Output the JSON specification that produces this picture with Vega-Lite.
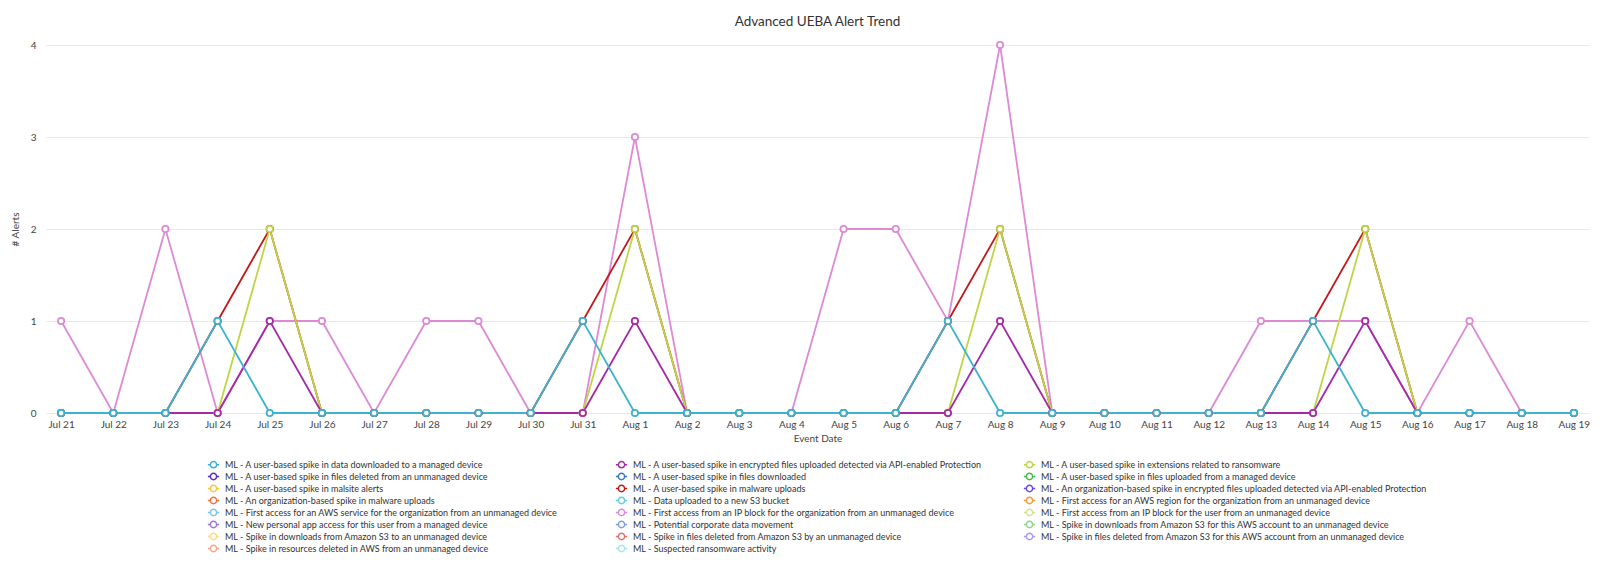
{
  "$schema": "https://vega.github.io/schema/vega-lite/v6.json",
  "width": 1600,
  "height": 569,
  "autosize": {"type": "fit", "contains": "padding"},
  "padding": {"left": 10, "right": 10, "top": 14, "bottom": 14},
  "background": "white",
  "title": {"text": "Advanced UEBA Alert Trend", "fontSize": 13.5, "font": "Lato", "fontWeight": "normal", "color": "#333333", "offset": 10, "anchor": "middle"},
  "config": {
    "font": "Lato",
    "view": {"stroke": null},
    "legend": {"layout": {"bottom": {"anchor": "middle"}}}
  },
  "data": {"values": [
    {"series": "ML - First access from an IP block for the organization from an unmanaged device", "date": "Jul 21", "alerts": 1},
    {"series": "ML - First access from an IP block for the organization from an unmanaged device", "date": "Jul 22", "alerts": 0},
    {"series": "ML - First access from an IP block for the organization from an unmanaged device", "date": "Jul 23", "alerts": 2},
    {"series": "ML - First access from an IP block for the organization from an unmanaged device", "date": "Jul 24", "alerts": 0},
    {"series": "ML - First access from an IP block for the organization from an unmanaged device", "date": "Jul 25", "alerts": 1},
    {"series": "ML - First access from an IP block for the organization from an unmanaged device", "date": "Jul 26", "alerts": 1},
    {"series": "ML - First access from an IP block for the organization from an unmanaged device", "date": "Jul 27", "alerts": 0},
    {"series": "ML - First access from an IP block for the organization from an unmanaged device", "date": "Jul 28", "alerts": 1},
    {"series": "ML - First access from an IP block for the organization from an unmanaged device", "date": "Jul 29", "alerts": 1},
    {"series": "ML - First access from an IP block for the organization from an unmanaged device", "date": "Jul 30", "alerts": 0},
    {"series": "ML - First access from an IP block for the organization from an unmanaged device", "date": "Jul 31", "alerts": 0},
    {"series": "ML - First access from an IP block for the organization from an unmanaged device", "date": "Aug 1", "alerts": 3},
    {"series": "ML - First access from an IP block for the organization from an unmanaged device", "date": "Aug 2", "alerts": 0},
    {"series": "ML - First access from an IP block for the organization from an unmanaged device", "date": "Aug 3", "alerts": 0},
    {"series": "ML - First access from an IP block for the organization from an unmanaged device", "date": "Aug 4", "alerts": 0},
    {"series": "ML - First access from an IP block for the organization from an unmanaged device", "date": "Aug 5", "alerts": 2},
    {"series": "ML - First access from an IP block for the organization from an unmanaged device", "date": "Aug 6", "alerts": 2},
    {"series": "ML - First access from an IP block for the organization from an unmanaged device", "date": "Aug 7", "alerts": 1},
    {"series": "ML - First access from an IP block for the organization from an unmanaged device", "date": "Aug 8", "alerts": 4},
    {"series": "ML - First access from an IP block for the organization from an unmanaged device", "date": "Aug 9", "alerts": 0},
    {"series": "ML - First access from an IP block for the organization from an unmanaged device", "date": "Aug 10", "alerts": 0},
    {"series": "ML - First access from an IP block for the organization from an unmanaged device", "date": "Aug 11", "alerts": 0},
    {"series": "ML - First access from an IP block for the organization from an unmanaged device", "date": "Aug 12", "alerts": 0},
    {"series": "ML - First access from an IP block for the organization from an unmanaged device", "date": "Aug 13", "alerts": 1},
    {"series": "ML - First access from an IP block for the organization from an unmanaged device", "date": "Aug 14", "alerts": 1},
    {"series": "ML - First access from an IP block for the organization from an unmanaged device", "date": "Aug 15", "alerts": 1},
    {"series": "ML - First access from an IP block for the organization from an unmanaged device", "date": "Aug 16", "alerts": 0},
    {"series": "ML - First access from an IP block for the organization from an unmanaged device", "date": "Aug 17", "alerts": 1},
    {"series": "ML - First access from an IP block for the organization from an unmanaged device", "date": "Aug 18", "alerts": 0},
    {"series": "ML - First access from an IP block for the organization from an unmanaged device", "date": "Aug 19", "alerts": 0},

    {"series": "ML - A user-based spike in malware uploads", "date": "Jul 21", "alerts": 0},
    {"series": "ML - A user-based spike in malware uploads", "date": "Jul 22", "alerts": 0},
    {"series": "ML - A user-based spike in malware uploads", "date": "Jul 23", "alerts": 0},
    {"series": "ML - A user-based spike in malware uploads", "date": "Jul 24", "alerts": 1},
    {"series": "ML - A user-based spike in malware uploads", "date": "Jul 25", "alerts": 2},
    {"series": "ML - A user-based spike in malware uploads", "date": "Jul 26", "alerts": 0},
    {"series": "ML - A user-based spike in malware uploads", "date": "Jul 27", "alerts": 0},
    {"series": "ML - A user-based spike in malware uploads", "date": "Jul 28", "alerts": 0},
    {"series": "ML - A user-based spike in malware uploads", "date": "Jul 29", "alerts": 0},
    {"series": "ML - A user-based spike in malware uploads", "date": "Jul 30", "alerts": 0},
    {"series": "ML - A user-based spike in malware uploads", "date": "Jul 31", "alerts": 1},
    {"series": "ML - A user-based spike in malware uploads", "date": "Aug 1", "alerts": 2},
    {"series": "ML - A user-based spike in malware uploads", "date": "Aug 2", "alerts": 0},
    {"series": "ML - A user-based spike in malware uploads", "date": "Aug 3", "alerts": 0},
    {"series": "ML - A user-based spike in malware uploads", "date": "Aug 4", "alerts": 0},
    {"series": "ML - A user-based spike in malware uploads", "date": "Aug 5", "alerts": 0},
    {"series": "ML - A user-based spike in malware uploads", "date": "Aug 6", "alerts": 0},
    {"series": "ML - A user-based spike in malware uploads", "date": "Aug 7", "alerts": 1},
    {"series": "ML - A user-based spike in malware uploads", "date": "Aug 8", "alerts": 2},
    {"series": "ML - A user-based spike in malware uploads", "date": "Aug 9", "alerts": 0},
    {"series": "ML - A user-based spike in malware uploads", "date": "Aug 10", "alerts": 0},
    {"series": "ML - A user-based spike in malware uploads", "date": "Aug 11", "alerts": 0},
    {"series": "ML - A user-based spike in malware uploads", "date": "Aug 12", "alerts": 0},
    {"series": "ML - A user-based spike in malware uploads", "date": "Aug 13", "alerts": 0},
    {"series": "ML - A user-based spike in malware uploads", "date": "Aug 14", "alerts": 1},
    {"series": "ML - A user-based spike in malware uploads", "date": "Aug 15", "alerts": 2},
    {"series": "ML - A user-based spike in malware uploads", "date": "Aug 16", "alerts": 0},
    {"series": "ML - A user-based spike in malware uploads", "date": "Aug 17", "alerts": 0},
    {"series": "ML - A user-based spike in malware uploads", "date": "Aug 18", "alerts": 0},
    {"series": "ML - A user-based spike in malware uploads", "date": "Aug 19", "alerts": 0},

    {"series": "ML - A user-based spike in extensions related to ransomware", "date": "Jul 21", "alerts": 0},
    {"series": "ML - A user-based spike in extensions related to ransomware", "date": "Jul 22", "alerts": 0},
    {"series": "ML - A user-based spike in extensions related to ransomware", "date": "Jul 23", "alerts": 0},
    {"series": "ML - A user-based spike in extensions related to ransomware", "date": "Jul 24", "alerts": 0},
    {"series": "ML - A user-based spike in extensions related to ransomware", "date": "Jul 25", "alerts": 2},
    {"series": "ML - A user-based spike in extensions related to ransomware", "date": "Jul 26", "alerts": 0},
    {"series": "ML - A user-based spike in extensions related to ransomware", "date": "Jul 27", "alerts": 0},
    {"series": "ML - A user-based spike in extensions related to ransomware", "date": "Jul 28", "alerts": 0},
    {"series": "ML - A user-based spike in extensions related to ransomware", "date": "Jul 29", "alerts": 0},
    {"series": "ML - A user-based spike in extensions related to ransomware", "date": "Jul 30", "alerts": 0},
    {"series": "ML - A user-based spike in extensions related to ransomware", "date": "Jul 31", "alerts": 0},
    {"series": "ML - A user-based spike in extensions related to ransomware", "date": "Aug 1", "alerts": 2},
    {"series": "ML - A user-based spike in extensions related to ransomware", "date": "Aug 2", "alerts": 0},
    {"series": "ML - A user-based spike in extensions related to ransomware", "date": "Aug 3", "alerts": 0},
    {"series": "ML - A user-based spike in extensions related to ransomware", "date": "Aug 4", "alerts": 0},
    {"series": "ML - A user-based spike in extensions related to ransomware", "date": "Aug 5", "alerts": 0},
    {"series": "ML - A user-based spike in extensions related to ransomware", "date": "Aug 6", "alerts": 0},
    {"series": "ML - A user-based spike in extensions related to ransomware", "date": "Aug 7", "alerts": 0},
    {"series": "ML - A user-based spike in extensions related to ransomware", "date": "Aug 8", "alerts": 2},
    {"series": "ML - A user-based spike in extensions related to ransomware", "date": "Aug 9", "alerts": 0},
    {"series": "ML - A user-based spike in extensions related to ransomware", "date": "Aug 10", "alerts": 0},
    {"series": "ML - A user-based spike in extensions related to ransomware", "date": "Aug 11", "alerts": 0},
    {"series": "ML - A user-based spike in extensions related to ransomware", "date": "Aug 12", "alerts": 0},
    {"series": "ML - A user-based spike in extensions related to ransomware", "date": "Aug 13", "alerts": 0},
    {"series": "ML - A user-based spike in extensions related to ransomware", "date": "Aug 14", "alerts": 0},
    {"series": "ML - A user-based spike in extensions related to ransomware", "date": "Aug 15", "alerts": 2},
    {"series": "ML - A user-based spike in extensions related to ransomware", "date": "Aug 16", "alerts": 0},
    {"series": "ML - A user-based spike in extensions related to ransomware", "date": "Aug 17", "alerts": 0},
    {"series": "ML - A user-based spike in extensions related to ransomware", "date": "Aug 18", "alerts": 0},
    {"series": "ML - A user-based spike in extensions related to ransomware", "date": "Aug 19", "alerts": 0},

    {"series": "ML - A user-based spike in encrypted files uploaded detected via API-enabled Protection", "date": "Jul 21", "alerts": 0},
    {"series": "ML - A user-based spike in encrypted files uploaded detected via API-enabled Protection", "date": "Jul 22", "alerts": 0},
    {"series": "ML - A user-based spike in encrypted files uploaded detected via API-enabled Protection", "date": "Jul 23", "alerts": 0},
    {"series": "ML - A user-based spike in encrypted files uploaded detected via API-enabled Protection", "date": "Jul 24", "alerts": 0},
    {"series": "ML - A user-based spike in encrypted files uploaded detected via API-enabled Protection", "date": "Jul 25", "alerts": 1},
    {"series": "ML - A user-based spike in encrypted files uploaded detected via API-enabled Protection", "date": "Jul 26", "alerts": 0},
    {"series": "ML - A user-based spike in encrypted files uploaded detected via API-enabled Protection", "date": "Jul 27", "alerts": 0},
    {"series": "ML - A user-based spike in encrypted files uploaded detected via API-enabled Protection", "date": "Jul 28", "alerts": 0},
    {"series": "ML - A user-based spike in encrypted files uploaded detected via API-enabled Protection", "date": "Jul 29", "alerts": 0},
    {"series": "ML - A user-based spike in encrypted files uploaded detected via API-enabled Protection", "date": "Jul 30", "alerts": 0},
    {"series": "ML - A user-based spike in encrypted files uploaded detected via API-enabled Protection", "date": "Jul 31", "alerts": 0},
    {"series": "ML - A user-based spike in encrypted files uploaded detected via API-enabled Protection", "date": "Aug 1", "alerts": 1},
    {"series": "ML - A user-based spike in encrypted files uploaded detected via API-enabled Protection", "date": "Aug 2", "alerts": 0},
    {"series": "ML - A user-based spike in encrypted files uploaded detected via API-enabled Protection", "date": "Aug 3", "alerts": 0},
    {"series": "ML - A user-based spike in encrypted files uploaded detected via API-enabled Protection", "date": "Aug 4", "alerts": 0},
    {"series": "ML - A user-based spike in encrypted files uploaded detected via API-enabled Protection", "date": "Aug 5", "alerts": 0},
    {"series": "ML - A user-based spike in encrypted files uploaded detected via API-enabled Protection", "date": "Aug 6", "alerts": 0},
    {"series": "ML - A user-based spike in encrypted files uploaded detected via API-enabled Protection", "date": "Aug 7", "alerts": 0},
    {"series": "ML - A user-based spike in encrypted files uploaded detected via API-enabled Protection", "date": "Aug 8", "alerts": 1},
    {"series": "ML - A user-based spike in encrypted files uploaded detected via API-enabled Protection", "date": "Aug 9", "alerts": 0},
    {"series": "ML - A user-based spike in encrypted files uploaded detected via API-enabled Protection", "date": "Aug 10", "alerts": 0},
    {"series": "ML - A user-based spike in encrypted files uploaded detected via API-enabled Protection", "date": "Aug 11", "alerts": 0},
    {"series": "ML - A user-based spike in encrypted files uploaded detected via API-enabled Protection", "date": "Aug 12", "alerts": 0},
    {"series": "ML - A user-based spike in encrypted files uploaded detected via API-enabled Protection", "date": "Aug 13", "alerts": 0},
    {"series": "ML - A user-based spike in encrypted files uploaded detected via API-enabled Protection", "date": "Aug 14", "alerts": 0},
    {"series": "ML - A user-based spike in encrypted files uploaded detected via API-enabled Protection", "date": "Aug 15", "alerts": 1},
    {"series": "ML - A user-based spike in encrypted files uploaded detected via API-enabled Protection", "date": "Aug 16", "alerts": 0},
    {"series": "ML - A user-based spike in encrypted files uploaded detected via API-enabled Protection", "date": "Aug 17", "alerts": 0},
    {"series": "ML - A user-based spike in encrypted files uploaded detected via API-enabled Protection", "date": "Aug 18", "alerts": 0},
    {"series": "ML - A user-based spike in encrypted files uploaded detected via API-enabled Protection", "date": "Aug 19", "alerts": 0},

    {"series": "ML - A user-based spike in data downloaded to a managed device", "date": "Jul 21", "alerts": 0},
    {"series": "ML - A user-based spike in data downloaded to a managed device", "date": "Jul 22", "alerts": 0},
    {"series": "ML - A user-based spike in data downloaded to a managed device", "date": "Jul 23", "alerts": 0},
    {"series": "ML - A user-based spike in data downloaded to a managed device", "date": "Jul 24", "alerts": 1},
    {"series": "ML - A user-based spike in data downloaded to a managed device", "date": "Jul 25", "alerts": 0},
    {"series": "ML - A user-based spike in data downloaded to a managed device", "date": "Jul 26", "alerts": 0},
    {"series": "ML - A user-based spike in data downloaded to a managed device", "date": "Jul 27", "alerts": 0},
    {"series": "ML - A user-based spike in data downloaded to a managed device", "date": "Jul 28", "alerts": 0},
    {"series": "ML - A user-based spike in data downloaded to a managed device", "date": "Jul 29", "alerts": 0},
    {"series": "ML - A user-based spike in data downloaded to a managed device", "date": "Jul 30", "alerts": 0},
    {"series": "ML - A user-based spike in data downloaded to a managed device", "date": "Jul 31", "alerts": 1},
    {"series": "ML - A user-based spike in data downloaded to a managed device", "date": "Aug 1", "alerts": 0},
    {"series": "ML - A user-based spike in data downloaded to a managed device", "date": "Aug 2", "alerts": 0},
    {"series": "ML - A user-based spike in data downloaded to a managed device", "date": "Aug 3", "alerts": 0},
    {"series": "ML - A user-based spike in data downloaded to a managed device", "date": "Aug 4", "alerts": 0},
    {"series": "ML - A user-based spike in data downloaded to a managed device", "date": "Aug 5", "alerts": 0},
    {"series": "ML - A user-based spike in data downloaded to a managed device", "date": "Aug 6", "alerts": 0},
    {"series": "ML - A user-based spike in data downloaded to a managed device", "date": "Aug 7", "alerts": 1},
    {"series": "ML - A user-based spike in data downloaded to a managed device", "date": "Aug 8", "alerts": 0},
    {"series": "ML - A user-based spike in data downloaded to a managed device", "date": "Aug 9", "alerts": 0},
    {"series": "ML - A user-based spike in data downloaded to a managed device", "date": "Aug 10", "alerts": 0},
    {"series": "ML - A user-based spike in data downloaded to a managed device", "date": "Aug 11", "alerts": 0},
    {"series": "ML - A user-based spike in data downloaded to a managed device", "date": "Aug 12", "alerts": 0},
    {"series": "ML - A user-based spike in data downloaded to a managed device", "date": "Aug 13", "alerts": 0},
    {"series": "ML - A user-based spike in data downloaded to a managed device", "date": "Aug 14", "alerts": 1},
    {"series": "ML - A user-based spike in data downloaded to a managed device", "date": "Aug 15", "alerts": 0},
    {"series": "ML - A user-based spike in data downloaded to a managed device", "date": "Aug 16", "alerts": 0},
    {"series": "ML - A user-based spike in data downloaded to a managed device", "date": "Aug 17", "alerts": 0},
    {"series": "ML - A user-based spike in data downloaded to a managed device", "date": "Aug 18", "alerts": 0},
    {"series": "ML - A user-based spike in data downloaded to a managed device", "date": "Aug 19", "alerts": 0}
  ]},
  "encoding": {
    "x": {
      "field": "date", "type": "ordinal",
      "scale": {"type": "point", "padding": 0.29, "domain": ["Jul 21","Jul 22","Jul 23","Jul 24","Jul 25","Jul 26","Jul 27","Jul 28","Jul 29","Jul 30","Jul 31","Aug 1","Aug 2","Aug 3","Aug 4","Aug 5","Aug 6","Aug 7","Aug 8","Aug 9","Aug 10","Aug 11","Aug 12","Aug 13","Aug 14","Aug 15","Aug 16","Aug 17","Aug 18","Aug 19"]},
      "axis": {"title": "Event Date", "labelAngle": 0, "grid": false, "ticks": false, "domain": false, "labelPadding": 6, "titlePadding": 4, "labelFontSize": 10, "titleFontSize": 10, "labelColor": "#444444", "titleColor": "#444444", "titleFontWeight": "normal"}
    },
    "y": {
      "field": "alerts", "type": "quantitative",
      "scale": {"domain": [0, 4], "nice": false},
      "axis": {"title": "# Alerts", "values": [0, 1, 2, 3, 4], "grid": true, "gridColor": "#e8e8e8", "ticks": false, "domain": false, "labelPadding": 10, "titlePadding": 10, "labelFontSize": 10, "titleFontSize": 10, "labelColor": "#444444", "titleColor": "#444444", "titleFontWeight": "normal"}
    },
    "color": {
      "field": "series", "type": "nominal",
      "scale": {
        "domain": [
          "ML - A user-based spike in data downloaded to a managed device",
          "ML - A user-based spike in encrypted files uploaded detected via API-enabled Protection",
          "ML - A user-based spike in extensions related to ransomware",
          "ML - A user-based spike in files deleted from an unmanaged device",
          "ML - A user-based spike in files downloaded",
          "ML - A user-based spike in files uploaded from a managed device",
          "ML - A user-based spike in malsite alerts",
          "ML - A user-based spike in malware uploads",
          "ML - An organization-based spike in encrypted files uploaded detected via API-enabled Protection",
          "ML - An organization-based spike in malware uploads",
          "ML - Data uploaded to a new S3 bucket",
          "ML - First access for an AWS region for the organization from an unmanaged device",
          "ML - First access for an AWS service for the organization from an unmanaged device",
          "ML - First access from an IP block for the organization from an unmanaged device",
          "ML - First access from an IP block for the user from an unmanaged device",
          "ML - New personal app access for this user from a managed device",
          "ML - Potential corporate data movement",
          "ML - Spike in downloads from Amazon S3 for this AWS account to an unmanaged device",
          "ML - Spike in downloads from Amazon S3 to an unmanaged device",
          "ML - Spike in files deleted from Amazon S3 by an unmanaged device",
          "ML - Spike in files deleted from Amazon S3 for this AWS account from an unmanaged device",
          "ML - Spike in resources deleted in AWS from an unmanaged device",
          "ML - Suspected ransomware activity"
        ],
        "range": ["#3db3cf","#a52aa8","#bfd547","#5b2fc4","#3d78c8","#47b84a","#f6c445","#c01a1c","#6a4ae6","#ee7342","#5ccfd6","#f59b32","#7cc6e6","#dc8ad6","#cfe492","#9a7ad8","#7f9fd8","#8dd48d","#fbd98a","#e07272","#a89cf0","#f3a784","#a6e6ea"]
      },
      "legend": {
        "title": null, "orient": "bottom", "direction": "horizontal", "columns": 3, "gridAlign": "all",
        "columnPadding": 0, "rowPadding": -2, "offset": 16,
        "symbolType": "M-1.25,0H-0.7M0.7,0H1.25M0.7,0A0.7,0.7,0,1,1,-0.7,0A0.7,0.7,0,1,1,0.7,0",
        "symbolSize": 81, "symbolStrokeWidth": 1.5, "symbolFillColor": "white",
        "labelFontSize": 9, "labelLimit": 600, "labelColor": "#333333", "labelOffset": 6,
        "encode": {"symbols": {"update": {"fill": {"value": "white"}, "fillOpacity": {"value": 1}, "strokeWidth": {"value": 1.5}}}}
      }
    }
  },
  "layer": [
    {"mark": {"type": "line", "strokeWidth": 1.8}},
    {"mark": {"type": "point", "filled": false, "fill": "white", "fillOpacity": 1, "opacity": 1, "size": 40, "strokeWidth": 1.8}}
  ]
}
